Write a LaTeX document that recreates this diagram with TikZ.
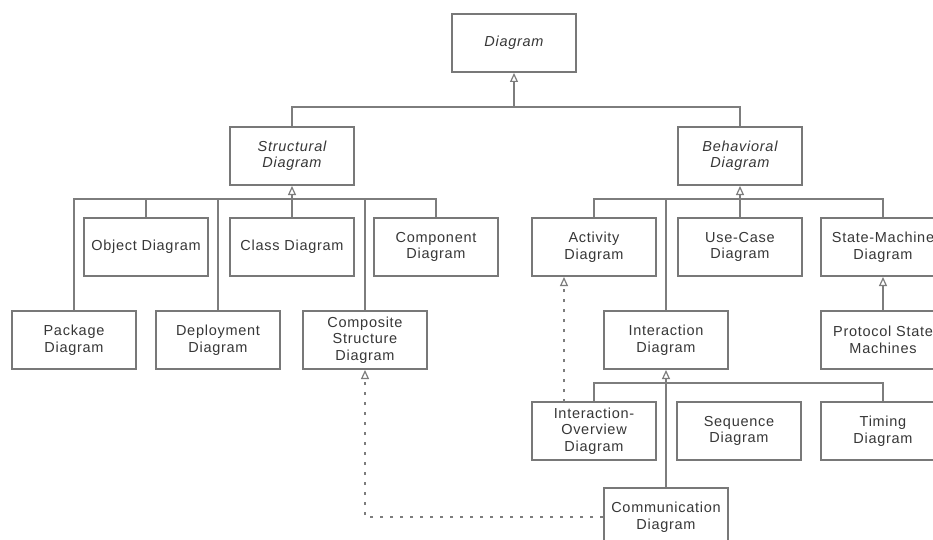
\documentclass[tikz,border=0pt]{standalone}
\usepackage{fontspec}
\setmainfont{Liberation Sans}[LetterSpace=5]
\usetikzlibrary{arrows.meta}
\definecolor{linegray}{RGB}{125,125,125}
\definecolor{boxgray}{RGB}{120,120,120}
\definecolor{textgray}{RGB}{55,55,55}
\tikzset{
  box/.style={draw=boxgray, line width=2pt, fill=white, minimum width=124pt, minimum height=58pt,
    inner sep=0pt, align=center, text=textgray, font=\fontsize{14.5}{16.5}\selectfont},
  abstractbox/.style={box, font=\fontsize{14.5}{16.5}\selectfont\itshape},
  conn/.style={draw=linegray, line width=1.5pt},
  gen/.style={conn, -{Triangle[open, width=8pt, length=9pt, line width=1.2pt]}},
  realize/.style={conn, line width=1.6pt, dash pattern=on 3.5pt off 6.5pt, -{Triangle[open, width=8pt, length=9pt, line width=1.2pt]}}
}
\begin{document}
\begin{tikzpicture}[x=1pt, y=-1pt]
\useasboundingbox (0,0) rectangle (933,540);
\clip (0,0) rectangle (933,540);
\fill[white] (0,0) rectangle (933,540);

% nodes
\node[abstractbox] (diag) at (514,43) {Diagram};
\node[abstractbox] (struct) at (292,156) {Structural\\Diagram};
\node[abstractbox] (behav) at (740,156) {Behavioral\\Diagram};

\node[box] (object) at (146,247) {Object Diagram};
\node[box] (class) at (292,247) {Class Diagram};
\node[box] (component) at (436,247) {Component\\Diagram};
\node[box] (package) at (74,340) {Package\\Diagram};
\node[box] (deployment) at (218,340) {Deployment\\Diagram};
\node[box] (composite) at (365,340) {Composite\\Structure\\Diagram};

\node[box] (activity) at (594,247) {Activity\\Diagram};
\node[box] (usecase) at (740,247) {Use-Case\\Diagram};
\node[box] (statem) at (883,247) {State-Machine\\Diagram};
\node[box] (interaction) at (666,340) {Interaction\\Diagram};
\node[box] (protocol) at (883,340) {Protocol State\\Machines};

\node[box] (io) at (594,431) {Interaction-\\Overview\\Diagram};
\node[box] (sequence) at (739,431) {Sequence\\Diagram};
\node[box] (timing) at (883,431) {Timing\\Diagram};
\node[box] (comm) at (666,517) {Communication\\Diagram};

% bar coordinates
\coordinate (b0) at (514,107);
\coordinate (b1) at (292,199);
\coordinate (b2) at (740,199);
\coordinate (b3) at (666,383);
\coordinate (ioa) at (564,402);

% top level
\draw[gen] (b0) -- (diag.south);
\draw[conn] (struct.north) |- (b0) -| (behav.north);

% structural
\draw[gen] (b1) -- (struct.south);
\draw[conn] (package.north) |- (component.north |- b1) -- (component.north);
\draw[conn] (object.north) -- (object.north |- b1);
\draw[conn] (class.north) -- (b1);
\draw[conn] (deployment.north) -- (deployment.north |- b1);
\draw[conn] (composite.north) -- (composite.north |- b1);

% behavioral
\draw[gen] (b2) -- (behav.south);
\draw[conn] (activity.north) |- (statem.north |- b2) -- (statem.north);
\draw[conn] (usecase.north) -- (b2);
\draw[conn] (interaction.north) -- (interaction.north |- b2);
\draw[gen] (protocol.north) -- (statem.south);

% interaction
\draw[gen] (b3) -- (interaction.south);
\draw[conn] (io.north) |- (timing.north |- b3) -- (timing.north);
\draw[conn] (comm.north) -- (b3);

% realizations (dashed)
\draw[realize] (ioa) -- (ioa |- activity.south);
\draw[realize] (comm.west) -| (composite.south);
\end{tikzpicture}
\end{document}
